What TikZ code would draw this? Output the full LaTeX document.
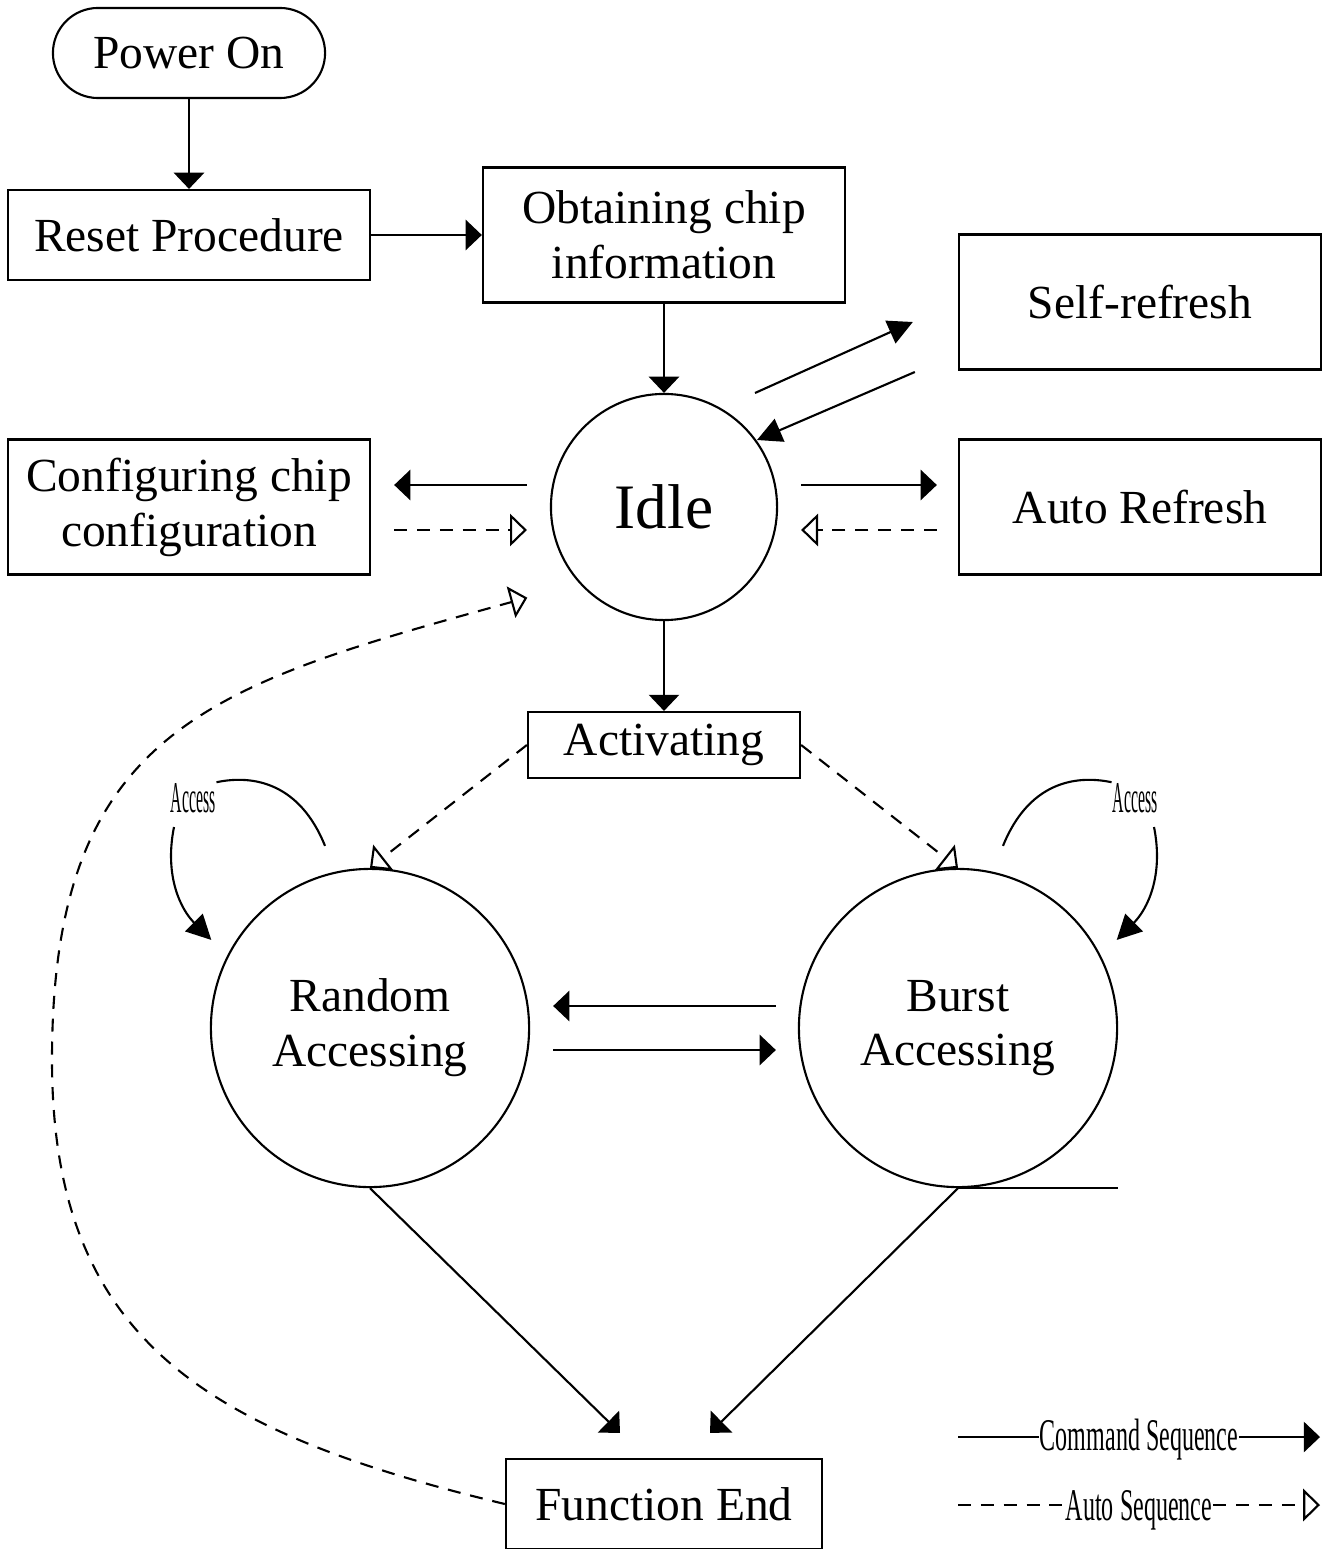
\documentclass[tikz,border=0pt]{standalone}
\usepackage{graphicx}
\usepackage{fontspec}
\setmainfont{Liberation Serif}
\usetikzlibrary{arrows.meta}
\begin{document}
\begin{tikzpicture}[x=0.01cm,y=-0.01cm,line width=0.6pt,
  >={Triangle[length=4.6pt,width=8.6pt]},
  font=\fontsize{13.5}{15.6}\selectfont,
  box/.style={draw,align=center,minimum width=3.62cm,minimum height=1.35cm},
  state/.style={draw,circle,align=center,minimum size=3.18cm},
  dsh/.style={dash pattern=on 3.7pt off 2.8pt},
  autoseq/.style={dsh,-{Triangle[open,length=4.8pt,width=9.2pt]}},
  loop/.style={-{Triangle[length=7pt,width=7pt]}},
  tag/.style={inner sep=0pt,font=\fontsize{12.5}{14}\selectfont}]
\useasboundingbox (0,0) rectangle (1329,1549);
\node[draw,rounded corners=0.45cm,minimum width=2.72cm,minimum height=0.9cm] (power) at (189,53) {Power On};
\node[box,minimum height=0.9cm] (reset) at (189,235) {Reset Procedure};
\node[box] (obtain) at (664,235) {Obtaining chip\\information};
\node[box] (selfref) at (1140,302) {Self-refresh};
\node[state,minimum size=2.26cm,font=\fontsize{18}{20}\selectfont] (idle) at (664,507) {Idle};
\node[box] (config) at (189,507) {Configuring chip\\configuration};
\node[box] (autoref) at (1140,507) {Auto Refresh};
\node[draw,minimum width=2.72cm,minimum height=0.66cm] (act) at (664,745) {Activating};
\node[state] (rnd) at (370,1028) {Random\\Accessing};
\node[state] (brs) at (958,1028) {Burst\\Accessing};
\node[draw,minimum width=3.16cm,minimum height=0.9cm] (fend) at (664,1504) {Function End};
\node[tag] (accL) at (193,798) {\scalebox{0.36}[1]{Access}};
\node[tag] (accR) at (1135,798) {\scalebox{0.36}[1]{Access}};
\node[tag,font=\fontsize{12.9}{14}\selectfont] (cmdlbl) at (1139,1440) {\scalebox{0.53}[1]{Command Sequence}};
\node[tag,font=\fontsize{12.9}{14}\selectfont] (autolbl) at (1139,1510) {\scalebox{0.53}[1]{Auto Sequence}};
\coordinate (c1) at (958,1437);
\coordinate (c2) at (1320,1437);
\coordinate (a1) at (958,1505);
\coordinate (a2) at (1320,1505);
\coordinate (bend) at (52,1060);
\draw[->] (power) -- (reset);
\draw[->] (reset) -- (obtain);
\draw[->] (obtain) -- (idle);
\draw[loop] ([shift={(91,-114)}]idle.center) -- ([shift={(-45,20)}]selfref.west);
\draw[loop] ([shift={(-43,70)}]selfref.west) -- ([shift={(93,-67)}]idle.center);
\draw[->] ([shift={(-23,-22)}]idle.west) -- ([shift={(23,-22)}]config.east);
\draw[autoseq] ([shift={(23,23)}]config.east) -- ([shift={(-23,23)}]idle.west);
\draw[->] ([shift={(23,-22)}]idle.east) -- ([shift={(-21,-22)}]autoref.west);
\draw[autoseq] ([shift={(-21,23)}]autoref.west) -- ([shift={(23,23)}]idle.east);
\draw[->] (idle) -- (act);
\draw[autoseq] (act.west) -- (rnd.north);
\draw[autoseq] (act.east) -- (brs.north);
\draw[->] ([shift={(-22,-22)}]brs.west) -- ([shift={(23,-22)}]rnd.east);
\draw[->] ([shift={(23,22)}]rnd.east) -- ([shift={(-22,22)}]brs.west);
\draw[->] (rnd.south) -- ([shift={(-44,-25)}]fend.north);
\draw[->] (brs.south) -- ([shift={(46,-25)}]fend.north);
\draw (brs.south) -- (brs.south -| brs.east);
\draw[autoseq] (fend.west) .. controls (206,1432) and (52,1340) .. (bend)
  .. controls (52,730) and (210,685) .. ([shift={(-56,10)}]idle.south west);
\draw ([shift={(-45,-22)}]rnd.north) .. controls +(-25,-62) and +(38,-8) .. (accL.north east);
\draw[loop] ([shift={(-19,29)}]accL.center) .. controls +(-10,50) and +(-30,-30) .. ([shift={(-20,-8)}]rnd.150);
\draw ([shift={(45,-22)}]brs.north) .. controls +(25,-62) and +(-38,-8) .. (accR.north west);
\draw[loop] ([shift={(19,29)}]accR.center) .. controls +(10,50) and +(30,-30) .. ([shift={(20,-8)}]brs.30);
\draw (c1) -- (c1 -| cmdlbl.west);
\draw[->] (c2 -| cmdlbl.east) -- (c2);
\draw[dsh] (a1) -- (a1 -| autolbl.west);
\draw[autoseq] (a2 -| autolbl.east) -- (a2);
\end{tikzpicture}
\end{document}
